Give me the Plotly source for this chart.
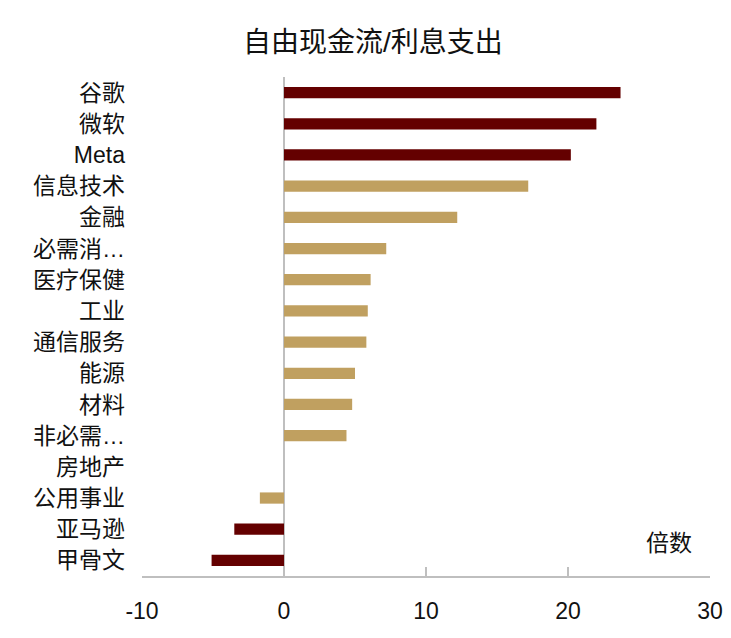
import plotly.graph_objects as go

# free cash flow / interest expense, multiples
categories = ["谷歌", "微软", "Meta", "信息技术", "金融", "必需消…", "医疗保健", "工业",
              "通信服务", "能源", "材料", "非必需…", "房地产", "公用事业", "亚马逊", "甲骨文"]
values = [23.7, 22.0, 20.2, 17.2, 12.2, 7.2, 6.1, 5.9, 5.8, 5.0, 4.8, 4.4, 0.0, -1.7, -3.5, -5.1]
is_company = [True, True, True, False, False, False, False, False,
              False, False, False, False, False, False, True, True]

x_ticks = [-10, 0, 10, 20, 30]
x_tick_labels = ["-10", "0", "10", "20", "30"]

dark_red = "#640000"
tan = "#C0A060"
font = "Liberation Sans, Noto Sans CJK SC, sans-serif"

fig = go.Figure(
    go.Bar(
        x=values,
        y=categories,
        orientation="h",
        width=0.36,
        marker=dict(color=[dark_red if c else tan for c in is_company], line=dict(width=0)),
    )
)

# page body has an 8px margin, so the margins are shifted by that
fig.update_layout(
    width=731,
    height=638,
    plot_bgcolor="white",
    paper_bgcolor="white",
    showlegend=False,
    margin=dict(l=134, r=29, t=69, b=70, autoexpand=False),
    font=dict(family=font, size=22, color="#111111"),
    title=dict(
        text="自由现金流/利息支出",
        x=0.499,
        xanchor="center",
        y=0.947,
        yanchor="middle",
        font=dict(family=font, size=28, color="#111111"),
    ),
    xaxis=dict(
        range=[-10, 30],
        tickvals=x_ticks,
        ticktext=x_tick_labels,
        automargin=False,
        showgrid=False,
        showline=True,
        linecolor="#bfbfbf",
        linewidth=2,
        ticks="inside",
        ticklen=9,
        tickwidth=2,
        tickcolor="#bfbfbf",
        zeroline=True,
        zerolinecolor="#bfbfbf",
        zerolinewidth=2,
        ticklabelstandoff=13,
        tickfont=dict(size=23),
    ),
    yaxis=dict(
        categoryorder="array",
        categoryarray=categories,
        autorange="reversed",
        automargin=False,
        showgrid=False,
        showline=False,
        ticks="",
        ticklabelstandoff=16,
        tickfont=dict(size=23),
    ),
    annotations=[
        dict(
            text="倍数",
            x=27.1,
            y=14.45,
            xref="x",
            yref="y",
            showarrow=False,
            font=dict(size=23),
        )
    ],
)

fig.write_html("out.html")
